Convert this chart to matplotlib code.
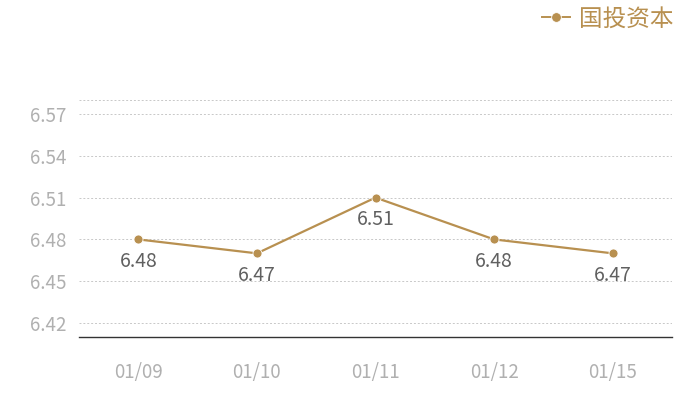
import matplotlib
matplotlib.use("Agg")
import matplotlib.pyplot as plt
from matplotlib.lines import Line2D

plt.rcParams['font.family'] = ['Noto Sans CJK SC', 'DejaVu Sans']

categories = ["01/09", "01/10", "01/11", "01/12", "01/15"]
values = [6.48, 6.47, 6.51, 6.48, 6.47]
series_name = "国投资本"
yticks = [6.42, 6.45, 6.48, 6.51, 6.54, 6.57]

gold = "#b89050"

fig = plt.figure(figsize=(7, 4), dpi=100)
ax = fig.add_axes([79/700, 63/400, 593/700, 237/400])

x = list(range(len(categories)))
ax.plot(x, values, color=gold, lw=1.6, marker='o', ms=6.5, mec='white', mew=0.6, zorder=3)
for xi, v in zip(x, values):
    ax.annotate(f"{v:.2f}", (xi, v), xytext=(0, -22), textcoords='offset pixels',
                ha='center', va='center', fontsize=14, color='#606060')

ax.set_xlim(-0.5, len(categories) - 0.5)
ax.set_ylim(6.41, 6.58)
ax.set_yticks(yticks)
ax.set_yticklabels([f"{t:.2f}" for t in yticks])
for t in yticks + [6.58]:
    ax.axhline(t, color='#c8c8c8', lw=0.7, ls=(0, (2, 2)), zorder=1)
ax.set_xticks(x)
ax.set_xticklabels(categories)
ax.tick_params(axis='both', length=0, labelsize=13.5, colors='#b0b0b0')
ax.tick_params(axis='x', pad=18)
ax.tick_params(axis='y', pad=9)
for s in ['top', 'right', 'left']:
    ax.spines[s].set_visible(False)
ax.spines['bottom'].set_color('#333333')
ax.spines['bottom'].set_linewidth(1)

handle = Line2D([], [], color=gold, lw=1.4, marker='o', ms=7, mec='white', mew=0.6)
fig.legend([handle], [series_name], loc='upper right', bbox_to_anchor=(0.975, 1.005),
           frameon=False, fontsize=17, labelcolor=gold, handlelength=1.2,
           handletextpad=0.35, borderaxespad=0.0)

fig.savefig("out.png", dpi=100)
